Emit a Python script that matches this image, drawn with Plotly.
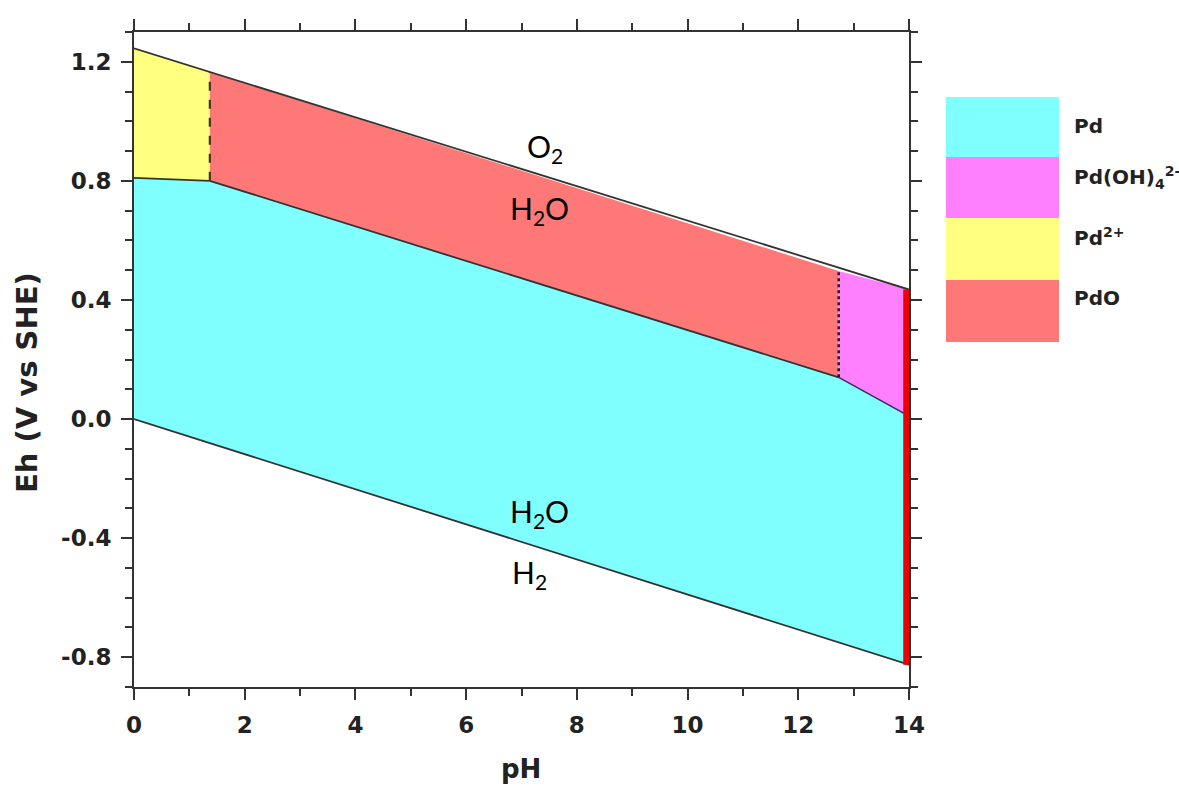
import plotly.graph_objects as go

# ---- data (pH, Eh in V vs SHE) ----
water_up_ph = [0, 14]
water_up_e = [1.245, 0.435]
water_lo_ph = [0, 14]
water_lo_e = [0.0, -0.825]

pd_ph = [0, 14, 14, 12.73, 1.37, 0]
pd_e = [0.0, -0.825, 0.01, 0.14, 0.80, 0.81]

pd2_ph = [0, 1.37, 1.37, 0]
pd2_e = [0.81, 0.80, 1.166, 1.245]

pdo_ph = [1.37, 12.73, 12.73, 1.37]
pdo_e = [0.80, 0.14, 0.497, 1.166]

pdoh_ph = [12.73, 14, 14, 12.73]
pdoh_e = [0.14, 0.01, 0.435, 0.497]

b_pd_pd2_ph = [0, 1.37]
b_pd_pd2_e = [0.81, 0.80]
b_pd_pdo_ph = [1.37, 12.73]
b_pd_pdo_e = [0.80, 0.14]
b_pd_pdoh_ph = [12.73, 14]
b_pd_pdoh_e = [0.14, 0.01]
v1_ph = [1.37, 1.37]
v1_e = [0.80, 1.166]
v2_ph = [12.73, 12.73]
v2_e = [0.14, 0.497]
red_ph = [13.95, 13.95]
red_e = [0.435, -0.825]

legend_names = ["Pd", "Pd(OH)<sub>4</sub><sup>2-</sup>", "Pd<sup>2+</sup>", "PdO"]
legend_colors = ["#80FFFF", "#FF80FF", "#FFFF80", "#FF7878"]

text_labels = ["O<sub>2</sub>", "H<sub>2</sub>O", "H<sub>2</sub>O", "H<sub>2</sub>"]
text_ph = [7.42, 7.33, 7.33, 7.14]
text_e = [0.912, 0.702, -0.317, -0.521]

x_ticks = [0, 2, 4, 6, 8, 10, 12, 14]
x_ticktext = ["0", "2", "4", "6", "8", "10", "12", "14"]
y_ticks = [-0.8, -0.4, 0.0, 0.4, 0.8, 1.2]
y_ticktext = ["-0.8", "-0.4", "0.0", "0.4", "0.8", "1.2"]

CYAN, MAG, YEL, SAL = legend_colors[0], legend_colors[1], legend_colors[2], legend_colors[3]
LINE = "#333333"

fig = go.Figure()


def region(xs, ys, color):
    fig.add_trace(go.Scatter(x=xs, y=ys, mode="lines", fill="toself", fillcolor=color,
                             line=dict(width=0, color=color), hoverinfo="skip", showlegend=False))


region(pd_ph, pd_e, CYAN)
region(pd2_ph, pd2_e, YEL)
region(pdo_ph, pdo_e, SAL)
region(pdoh_ph, pdoh_e, MAG)


def line(xs, ys, color=LINE, width=1.8, dash="solid"):
    fig.add_trace(go.Scatter(x=xs, y=ys, mode="lines", line=dict(color=color, width=width, dash=dash),
                             hoverinfo="skip", showlegend=False))


line(water_up_ph, water_up_e)
line(water_lo_ph, water_lo_e)
line(b_pd_pd2_ph, b_pd_pd2_e)
line(b_pd_pdo_ph, b_pd_pdo_e)
line(b_pd_pdoh_ph, b_pd_pdoh_e, color="#3a2a60", width=1.5)
line(v1_ph, v1_e, color="#4a3020", width=2.2, dash="dash")
line(v2_ph, v2_e, color="#2a1030", width=2.5, dash="dot")
line(red_ph, red_e, color="#EE0000", width=6)

for t, xv, yv in zip(text_labels, text_ph, text_e):
    fig.add_annotation(x=xv, y=yv, text=t, showarrow=False, xanchor="center", yanchor="middle",
                       font=dict(family="Lato", size=30, color="#000000"))

# legend drawn as boxes at the right
L, R, T, B = 134, 909, 32, 687
W, H = R - L, B - T
def px(x):
    return (x - L) / W
def py(y):
    return (B - y) / H

box_edges = [97, 157, 218, 280, 342]
label_y = [126, 177, 237, 298]
for i, (name, col) in enumerate(zip(legend_names, legend_colors)):
    fig.add_shape(type="rect", xref="paper", yref="paper", x0=px(946), x1=px(1059),
                  y0=py(box_edges[i + 1]), y1=py(box_edges[i]), fillcolor=col, line=dict(width=0))
    fig.add_annotation(xref="paper", yref="paper", x=px(1072), y=py(label_y[i]), text=name,
                       showarrow=False, xanchor="left", yanchor="middle",
                       font=dict(family="DejaVu Sans", size=20, color="#222222", weight="bold"))

fig.add_annotation(xref="paper", yref="paper", x=px(27), y=py(383), text="Eh (V vs SHE)", textangle=-90,
                   showarrow=False, xanchor="center", yanchor="middle",
                   font=dict(family="DejaVu Sans", size=29, color="#222222", weight="bold"))
fig.add_annotation(xref="paper", yref="paper", x=px(521), y=py(769), text="pH",
                   showarrow=False, xanchor="center", yanchor="middle",
                   font=dict(family="DejaVu Sans", size=26, color="#222222", weight="bold"))

axis_common = dict(showgrid=False, zeroline=False, showline=True, linecolor=LINE, linewidth=2,
                   mirror="allticks", ticks="outside", ticklen=11, tickwidth=2, tickcolor=LINE,
                   tickfont=dict(family="DejaVu Sans", size=23, color="#222222", weight="bold"))

fig.update_xaxes(range=[0, 14], tickvals=x_ticks, ticktext=x_ticktext,
                 minor=dict(dtick=1, ticks="outside", ticklen=7, tickwidth=2, tickcolor=LINE),
                 ticklabelstandoff=5, **axis_common)
fig.update_yaxes(range=[-0.9, 1.3], tickvals=y_ticks, ticktext=y_ticktext,
                 minor=dict(dtick=0.1, tick0=0, ticks="outside", ticklen=7, tickwidth=2, tickcolor=LINE),
                 ticklabelstandoff=5, **axis_common)

fig.update_layout(width=1179, height=786, margin=dict(l=L, r=1179 - R, t=T, b=786 - B),
                  plot_bgcolor="white", paper_bgcolor="white", showlegend=False)

fig.write_html("out.html", config={"displayModeBar": False},
               post_script="document.body.style.margin='0';document.body.style.overflow='hidden';")
